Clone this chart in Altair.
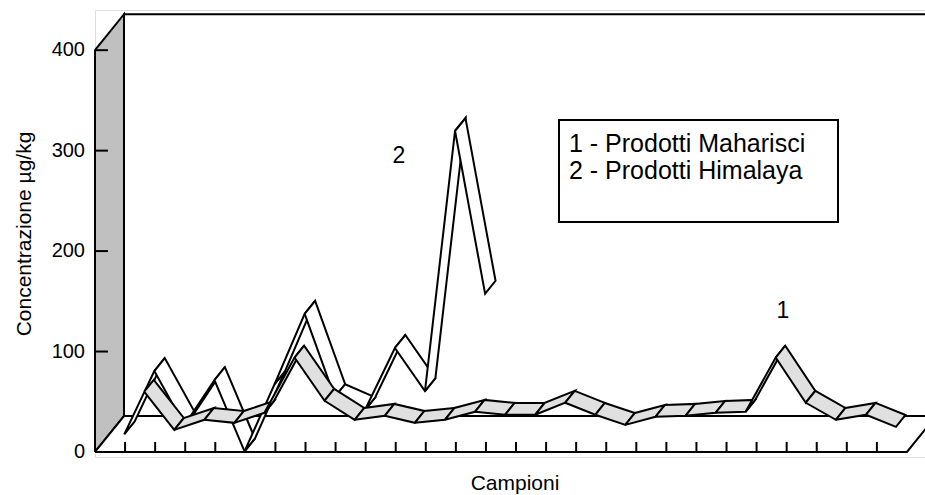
import altair as alt
import pandas as pd

# Concentrations (µg/kg) per sample; None = sample not present in the series
campioni = list(range(1, 28))
maharisci = [None, 55, 17, 27, 24, 34, 89, 46, 27, 31, 24, 27, 35, 32, 32,
             44, 32, 22, 30, 31, 34, 35, 89, 44, 27, 32, 20]
himalaya = [0, 63, 9, 54, -17, 50, 120, 37, 24, 86, 43, 302, 140] + [None] * 14
y_ticks = [0, 100, 200, 300, 400]
series_labels = ["1", "2"]
legend_lines = ["1 - Prodotti Maharisci", "2 - Prodotti Himalaya"]
y_title = "Concentrazione µg/kg"
x_title = "Campioni"

# Oblique 3-D frame: u = category slot, v = value, d = depth in [0, 1]
DU, DV = 0.964, 35.8
U_MAX = len(campioni)
V_MAX = max(y_ticks)
RIBBON_DEPTH = {"1": (0.14, 0.47), "2": (0.49, 0.85)}
FONT = "Liberation Sans"

xs = alt.Scale(domain=[0, 27.6], nice=False, zero=False)
ys = alt.Scale(domain=[-5, 440], nice=False, zero=False)


def project(u, v, d):
    return u + d * DU, v + d * DV


def xy():
    return dict(x=alt.X("u:Q", scale=xs, axis=None),
                y=alt.Y("v:Q", scale=ys, axis=None))


def polygon(corners, fill):
    pts = corners + corners[:1]
    df = pd.DataFrame({"u": [p[0] for p in pts],
                       "v": [p[1] for p in pts],
                       "k": list(range(len(pts)))})
    return alt.Chart(df).mark_line(
        fill=fill, stroke="black", strokeWidth=2,
        strokeJoin="miter", strokeMiterLimit=4,
    ).encode(order="k:Q", **xy())


def ribbon(values, key, fill):
    d0, d1 = RIBBON_DEPTH[key]
    out = []
    for i in range(len(values) - 1):
        a, b = values[i], values[i + 1]
        if a is None or b is None:
            continue
        ua, ub = campioni[i] - 0.5, campioni[i + 1] - 0.5
        out.append(polygon([project(ua, a, d0), project(ub, b, d0),
                            project(ub, b, d1), project(ua, a, d1)], fill))
    return out


# walls and floor
back_wall = polygon([project(0, 0, 1), project(0, V_MAX, 1),
                     project(U_MAX + 1, V_MAX, 1), project(U_MAX + 1, 0, 1)], "white")
side_wall = polygon([project(0, 0, 0), project(0, V_MAX, 0),
                     project(0, V_MAX, 1), project(0, 0, 1)], "#c0c0c0")
floor = polygon([project(0, 0, 0), project(U_MAX, 0, 0),
                 project(U_MAX, 0, 1), project(0, 0, 1)], "white")

# value ticks on the front face of the side wall, with their labels
yt = pd.DataFrame({"v": y_ticks, "u": 0.0, "u2": 0.43})
y_tick_marks = alt.Chart(yt).mark_rule(color="black", strokeWidth=2).encode(
    x=alt.X("u:Q", scale=xs, axis=None), x2="u2:Q",
    y=alt.Y("v:Q", scale=ys, axis=None))
y_tick_labels = alt.Chart(yt).mark_text(
    font=FONT, fontSize=20, color="black", align="right", baseline="middle",
).encode(text="v:Q", x=alt.value(-10), y=alt.Y("v:Q", scale=ys, axis=None))

# category separators along the front edge of the floor
xt = pd.DataFrame({"u": [c - 1 for c in campioni[1:]], "v": 0.0, "v2": 10.0})
x_tick_marks = alt.Chart(xt).mark_rule(color="black", strokeWidth=2).encode(
    x=alt.X("u:Q", scale=xs, axis=None),
    y=alt.Y("v:Q", scale=ys, axis=None), y2="v2:Q")

# back series first, front series over it
ribbons = ribbon(himalaya, "2", "white") + ribbon(maharisci, "1", "#e0e0e0")


def label(text, x, y, size, align="center", angle=0):
    return alt.Chart(pd.DataFrame({"t": [text]})).mark_text(
        font=FONT, fontSize=size, color="black", align=align,
        baseline="alphabetic", angle=angle,
    ).encode(text="t:N", x=alt.value(x), y=alt.value(y))


legend_box = alt.Chart(pd.DataFrame({"a": [0]})).mark_rect(
    fill="white", stroke="black", strokeWidth=2,
).encode(x=alt.value(464), x2=alt.value(743), y=alt.value(110), y2=alt.value(212))

texts = [
    legend_box,
    label(legend_lines[0], 474, 142, 25, align="left"),
    label(legend_lines[1], 474, 169, 25, align="left"),
    label(series_labels[1], 304, 153, 23),
    label(series_labels[0], 688, 308, 23),
    label(x_title, 420, 480, 21),
    label(y_title, -64, 224, 21, angle=270),
]

chart = alt.layer(
    back_wall, side_wall, floor, y_tick_marks, y_tick_labels, x_tick_marks,
    *ribbons, *texts
).properties(
    width=830, height=447,
    padding={"left": 95, "top": 10, "right": 0, "bottom": 38},
    autosize=alt.AutoSizeParams(type="none"),
).configure_view(stroke=None).configure(background="white")

chart.save("out.html", embed_options={"renderer": "svg", "actions": False})
